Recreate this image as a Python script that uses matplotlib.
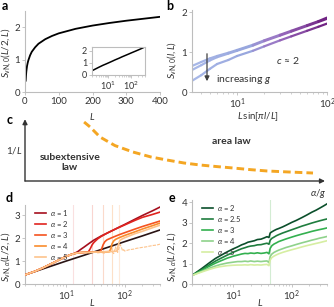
import numpy as np
import matplotlib
matplotlib.use("Agg")
import matplotlib.pyplot as plt
from matplotlib.collections import LineCollection
from matplotlib.colors import LinearSegmentedColormap
from matplotlib.ticker import NullFormatter

plt.rcParams['font.family'] = ['Lato', 'DejaVu Sans']
plt.rcParams['mathtext.fontset'] = 'custom'
plt.rcParams['mathtext.rm'] = 'Lato'
plt.rcParams['mathtext.it'] = 'Lato:italic'
plt.rcParams['mathtext.bf'] = 'Lato:bold'
plt.rcParams['mathtext.fallback'] = 'stixsans'

# ---- panel a: entanglement entropy vs L (linear + log inset)
L_a = [2, 3, 4, 6, 8, 10, 15, 20, 30, 40, 60, 80, 100, 150, 200, 250, 300, 350, 400]
S_a = [0.35, 0.52, 0.64, 0.80, 0.90, 0.98, 1.13, 1.24, 1.38, 1.49, 1.63, 1.73, 1.81,
       1.95, 2.05, 2.13, 2.20, 2.26, 2.32]

# ---- panel b: three g values vs chord length
x_b = [3.16, 4, 5, 6, 8, 10, 15, 20, 30, 40, 60, 80, 100]
S_b1 = [0.65, 0.75, 0.84, 0.90, 0.98, 1.05, 1.18, 1.29, 1.43, 1.53, 1.67, 1.77, 1.86]
S_b2 = [0.55, 0.67, 0.79, 0.87, 0.96, 1.03, 1.16, 1.27, 1.41, 1.51, 1.65, 1.75, 1.83]
S_b3 = [0.28, 0.42, 0.58, 0.70, 0.80, 0.90, 1.03, 1.14, 1.29, 1.39, 1.53, 1.63, 1.71]

# ---- panel c: sketched phase boundary (axes fractions)
x_c = [0.197, 0.217, 0.25, 0.30, 0.36, 0.42, 0.473, 0.53, 0.583, 0.64, 0.693, 0.75, 0.807, 0.88, 0.96]
y_c = [0.983, 0.90, 0.733, 0.59, 0.483, 0.40, 0.35, 0.30, 0.267, 0.24, 0.217, 0.19, 0.167, 0.15, 0.133]

# ---- panel d: alpha = 1..5
L_ref = [2, 5, 10, 20, 50, 100, 200, 400]
S_ref = [0.40, 0.74, 1.00, 1.25, 1.59, 1.85, 2.10, 2.36]

L_d1 = [2, 3, 4, 6, 8, 10, 12, 14, 16, 18, 20, 25, 30, 40, 50, 60, 80, 100, 150, 200, 300, 400]
S_d1 = [0.40, 0.56, 0.70, 0.92, 1.08, 1.20, 1.28, 1.34, 1.42, 1.52, 1.60, 1.78, 1.92, 2.10,
        2.22, 2.32, 2.48, 2.60, 2.83, 2.99, 3.20, 3.36]
L_d2 = [2, 3, 4, 6, 8, 10, 12, 14, 16, 20, 24, 26, 28, 30, 35, 40, 50, 60, 80, 100, 150, 200, 300, 400]
S_d2 = [0.40, 0.56, 0.70, 0.92, 1.08, 1.20, 1.28, 1.33, 1.36, 1.38, 1.40, 1.55, 1.72, 1.82,
        1.98, 2.08, 2.22, 2.32, 2.47, 2.58, 2.78, 2.91, 3.04, 3.14]
L_d3 = [2, 3, 4, 6, 8, 10, 12, 14, 16, 20, 25, 30, 35, 38, 40, 43, 46, 50, 60, 80, 100, 150, 200, 300, 400]
S_d3 = [0.40, 0.56, 0.70, 0.92, 1.08, 1.20, 1.28, 1.33, 1.36, 1.38, 1.39, 1.40, 1.41, 1.42,
        1.50, 1.72, 1.85, 1.93, 2.02, 2.15, 2.24, 2.40, 2.51, 2.65, 2.75]
L_d4 = [2, 3, 4, 6, 8, 10, 12, 14, 16, 20, 25, 30, 40, 50, 55, 58, 61, 65, 70, 80, 100, 150, 200, 300, 400]
S_d4 = [0.40, 0.56, 0.70, 0.92, 1.08, 1.20, 1.28, 1.33, 1.36, 1.38, 1.38, 1.39, 1.40, 1.41,
        1.42, 1.55, 1.76, 1.88, 1.95, 2.02, 2.12, 2.28, 2.40, 2.55, 2.66]
L_d5 = [2, 3, 4, 6, 8, 10, 12, 14, 16, 20, 25, 30, 40, 50, 60, 70, 74, 78, 82, 88, 100, 150, 200, 300, 400]
S_d5 = [0.40, 0.56, 0.70, 0.92, 1.08, 1.20, 1.28, 1.33, 1.36, 1.38, 1.38, 1.39, 1.40, 1.41,
        1.42, 1.43, 1.45, 1.72, 1.88, 1.95, 2.02, 2.20, 2.30, 2.46, 2.57]
L_noise = [12, 15, 18, 20, 25, 30, 35, 40, 45, 50, 55, 58, 60, 62, 65, 68, 70, 73, 76, 80,
           84, 88, 92, 96, 100, 110, 120, 140, 160, 180, 200, 230, 260, 300, 350, 400]
S_noise = [1.30, 1.36, 1.38, 1.38, 1.37, 1.39, 1.36, 1.38, 1.34, 1.40, 1.36, 1.48, 1.58, 1.38,
           1.33, 1.50, 1.62, 1.45, 1.38, 1.58, 1.72, 1.60, 1.45, 1.50, 1.44, 1.47, 1.50, 1.52,
           1.56, 1.58, 1.60, 1.62, 1.65, 1.68, 1.70, 1.74]
L_cross_d = [13.4, 27.8, 42.4, 60, 80]
alpha_d = ['1', '2', '3', '4', '5']
col_d = ['#a50f1e', '#e0241f', '#f5531f', '#f98c2c', '#fdc38c']
vcol_d = ['#fae0e0', '#f9d5d0', '#fbdacb', '#fde0c8', '#feeada']

# ---- panel e: alpha = 2..5
L_e = [2, 3, 4, 5, 6, 8, 10, 12, 14, 16, 18, 20, 23, 26, 30, 34, 38, 41, 43, 46,
       50, 55, 60, 70, 80, 100, 120, 150, 180, 220, 260, 300, 350, 400]
S_e1 = [0.42, 0.78, 1.05, 1.25, 1.38, 1.58, 1.72, 1.82, 1.92, 1.98, 2.05, 2.08, 2.12, 2.18,
        2.20, 2.26, 2.32, 2.28, 2.50, 2.56, 2.62, 2.68, 2.72, 2.80, 2.88, 3.02, 3.12, 3.26,
        3.38, 3.52, 3.62, 3.72, 3.83, 3.93]
S_e2 = [0.42, 0.72, 0.95, 1.12, 1.24, 1.42, 1.55, 1.65, 1.73, 1.78, 1.83, 1.86, 1.88, 1.92,
        1.93, 1.97, 2.00, 1.95, 2.15, 2.24, 2.30, 2.37, 2.42, 2.50, 2.56, 2.66, 2.74, 2.84,
        2.91, 2.99, 3.05, 3.10, 3.15, 3.19]
S_e3 = [0.42, 0.68, 0.88, 1.02, 1.12, 1.27, 1.36, 1.42, 1.47, 1.50, 1.49, 1.52, 1.50, 1.53,
        1.50, 1.52, 1.55, 1.48, 1.75, 1.88, 1.96, 2.02, 2.08, 2.15, 2.21, 2.30, 2.37, 2.45,
        2.51, 2.58, 2.63, 2.67, 2.71, 2.75]
S_e4 = [0.42, 0.63, 0.78, 0.88, 0.95, 1.03, 1.07, 1.10, 1.10, 1.12, 1.10, 1.13, 1.10, 1.12,
        1.10, 1.12, 1.13, 1.05, 1.35, 1.47, 1.55, 1.61, 1.66, 1.73, 1.79, 1.87, 1.94, 2.02,
        2.08, 2.15, 2.20, 2.25, 2.29, 2.33]
S_e5 = [0.42, 0.60, 0.72, 0.80, 0.85, 0.90, 0.92, 0.93, 0.93, 0.94, 0.93, 0.95, 0.93, 0.94,
        0.93, 0.95, 0.96, 0.90, 1.18, 1.30, 1.37, 1.43, 1.48, 1.55, 1.60, 1.68, 1.74, 1.82,
        1.88, 1.94, 1.99, 2.03, 2.08, 2.12]
L_cross_e = 42
alpha_e = ['2', '2.5', '3', '4', '5']
col_e = ['#0b4f2b', '#1f7d3e', '#33b04f', '#8fd28b', '#d6eea2']

W, H = 334, 307
TXT = '#333333'
SPINE = '#bdbdbd'


def box(l, t, r, b):
    return [l / W, 1 - b / H, (r - l) / W, (b - t) / H]


def fp(x, y):
    return x / W, 1 - y / H


def style(ax, size=7):
    for s in ['top', 'right']:
        ax.spines[s].set_visible(False)
    for s in ['left', 'bottom']:
        ax.spines[s].set_color(SPINE)
        ax.spines[s].set_linewidth(0.8)
    ax.tick_params(which='major', labelsize=size, labelcolor=TXT, color=SPINE,
                   length=2, width=0.6, pad=1.5)
    ax.tick_params(which='minor', color=SPINE, length=1.3, width=0.5)
    ax.patch.set_alpha(0)


def legend(ax):
    ax.legend(loc='upper left', frameon=False, fontsize=5.5, handlelength=1.5,
              labelspacing=0.12, handletextpad=0.45, borderaxespad=0.0,
              bbox_to_anchor=(0.05, 1.0), labelcolor=TXT)


fig = plt.figure(figsize=(W / 100, H / 100), dpi=100)

# ---- a
ax_a = fig.add_axes(box(25, 11, 160, 92))
ax_a.plot(L_a, S_a, color='black', lw=1.3)
ax_a.set_xlim(0, 400)
ax_a.set_ylim(0, 2.5)
ax_a.set_xticks([0, 100, 200, 300, 400])
ax_a.set_yticks([0, 1, 2])
style(ax_a)

ax_in = fig.add_axes(box(92, 47, 145, 75))
ax_in.plot(L_a, S_a, color='black', lw=1.1)
ax_in.set_xscale('log')
ax_in.set_xlim(2, 400)
ax_in.set_ylim(0, 2.3)
ax_in.set_yticks([0, 1, 2])
ax_in.xaxis.set_minor_formatter(NullFormatter())
style(ax_in, size=6.5)
for s in ['top', 'right']:
    ax_in.spines[s].set_visible(True)
    ax_in.spines[s].set_color(SPINE)
    ax_in.spines[s].set_linewidth(0.8)

# ---- b
ax_b = fig.add_axes(box(192, 10, 327, 92))
cmap_b = LinearSegmentedColormap.from_list(
    'b', [(0, '#a8b8e8'), (0.4, '#98a7de'), (0.65, '#9a6ec0'), (1, '#6d1d7e')])
lx = np.log10(x_b)
frac = (lx - lx[0]) / (lx[-1] - lx[0])
for S in [S_b1, S_b2, S_b3]:
    pts = np.column_stack([x_b, S])
    segs = np.stack([pts[:-1], pts[1:]], axis=1)
    mid = 0.5 * (frac[:-1] + frac[1:])
    lc = LineCollection(segs, colors=cmap_b(mid), linewidths=1.6, capstyle='round')
    ax_b.add_collection(lc)
ax_b.set_xscale('log')
ax_b.set_xlim(3.16, 100)
ax_b.set_ylim(0, 2.05)
ax_b.set_yticks([0, 1, 2])
ax_b.xaxis.set_minor_formatter(NullFormatter())
style(ax_b)
fig.text(*fp(288, 60), r'$c$ ≈ 2', fontsize=7.5, color=TXT, ha='center', va='center')
fig.text(*fp(216, 79), r'increasing $g$', fontsize=7.5, color=TXT, ha='left', va='center')
ax_b.annotate('', xy=fp(207, 84), xytext=fp(207, 51), xycoords='figure fraction',
              textcoords='figure fraction',
              arrowprops=dict(arrowstyle='-|>', color='#404040', lw=0.9, mutation_scale=7))

# ---- c
ax_c = fig.add_axes(box(25, 121, 325, 181))
ax_c.set_xlim(0, 1)
ax_c.set_ylim(0, 1)
ax_c.axis('off')
ax_c.plot(x_c, y_c, color='#f4a623', lw=2.1, linestyle=(0, (2.6, 1.4)))
ax_c.annotate('', xy=(1.0, 0), xytext=(0, 0), xycoords='axes fraction',
              arrowprops=dict(arrowstyle='-|>', color='#333333', lw=1.0,
                              mutation_scale=7, shrinkA=0, shrinkB=0))
ax_c.annotate('', xy=(0, 1.03), xytext=(0, 0), xycoords='axes fraction',
              arrowprops=dict(arrowstyle='-|>', color='#333333', lw=1.0,
                              mutation_scale=7, shrinkA=0, shrinkB=0))
fig.text(*fp(14, 150), r'1/$L$', fontsize=7, color=TXT, ha='center', va='center')
fig.text(*fp(70, 157), 'subextensive', fontsize=7.5, color=TXT, ha='center', va='center',
         weight='bold')
fig.text(*fp(70, 168), 'law', fontsize=7.5, color=TXT, ha='center', va='center', weight='bold')
fig.text(*fp(231, 142), 'area law', fontsize=7.5, color=TXT, ha='center', va='center',
         weight='bold')
fig.text(*fp(318, 193), r'$\alpha/g$', fontsize=7, color=TXT, ha='center', va='center')

# ---- d
ax_d = fig.add_axes(box(25, 205, 160, 284))
for Lc, vc in zip(L_cross_d, vcol_d):
    ax_d.axvline(Lc, color=vc, lw=0.8, zorder=0)
ax_d.plot(L_ref, S_ref, color='#2a1414', lw=1.2, zorder=1)
ax_d.plot(L_noise, S_noise, color='#fdc38c', lw=0.8, linestyle=(0, (3, 1)), zorder=2)
for Ld, Sd, a, c in zip([L_d1, L_d2, L_d3, L_d4, L_d5], [S_d1, S_d2, S_d3, S_d4, S_d5],
                        alpha_d, col_d):
    ax_d.plot(Ld, Sd, color=c, lw=1.2, label=r'$\alpha$ = ' + a, zorder=3)
ax_d.set_xscale('log')
ax_d.set_xlim(2, 400)
ax_d.set_ylim(0, 3.45)
ax_d.set_yticks([0, 1, 2, 3])
ax_d.xaxis.set_minor_formatter(NullFormatter())
style(ax_d)
legend(ax_d)

# ---- e
ax_e = fig.add_axes(box(192, 200, 327, 284))
ax_e.axvline(L_cross_e, color='#d3ecd3', lw=0.8, zorder=0)
for Se, a, c in zip([S_e1, S_e2, S_e3, S_e4, S_e5], alpha_e, col_e):
    ax_e.plot(L_e, Se, color=c, lw=1.2, label=r'$\alpha$ = ' + a)
ax_e.set_xscale('log')
ax_e.set_xlim(2, 400)
ax_e.set_ylim(0, 4.12)
ax_e.set_yticks([0, 1, 2, 3, 4])
ax_e.xaxis.set_minor_formatter(NullFormatter())
style(ax_e)
legend(ax_e)

# ---- axis labels and panel letters
lab = dict(fontsize=7, color=TXT, ha='center', va='center')
fig.text(*fp(7, 53), r'$S_{\mathrm{vN},0}(L/2,L)$', rotation=90, **lab)
fig.text(*fp(92, 117), r'$L$', **lab)
fig.text(*fp(173, 60), r'$S_{\mathrm{vN},0}(l,L)$', rotation=90, **lab)
fig.text(*fp(258, 117), r'$L\,\mathrm{sin}[\pi l/L]$', **lab)
fig.text(*fp(7, 257), r'$S_{\mathrm{vN},\alpha}(L/2,L)$', rotation=90, **lab)
fig.text(*fp(92, 302), r'$L$', **lab)
fig.text(*fp(173, 257), r'$S_{\mathrm{vN},\alpha}(L/2,L)$', rotation=90, **lab)
fig.text(*fp(260, 302), r'$L$', **lab)

for ch, x, y in [('a', 5, 6), ('b', 170, 6), ('c', 10, 120), ('d', 9, 198), ('e', 172, 198)]:
    fig.text(*fp(x, y), ch, fontsize=9, weight='bold', color='black', ha='center', va='center')

fig.savefig('out.png', dpi=100)
